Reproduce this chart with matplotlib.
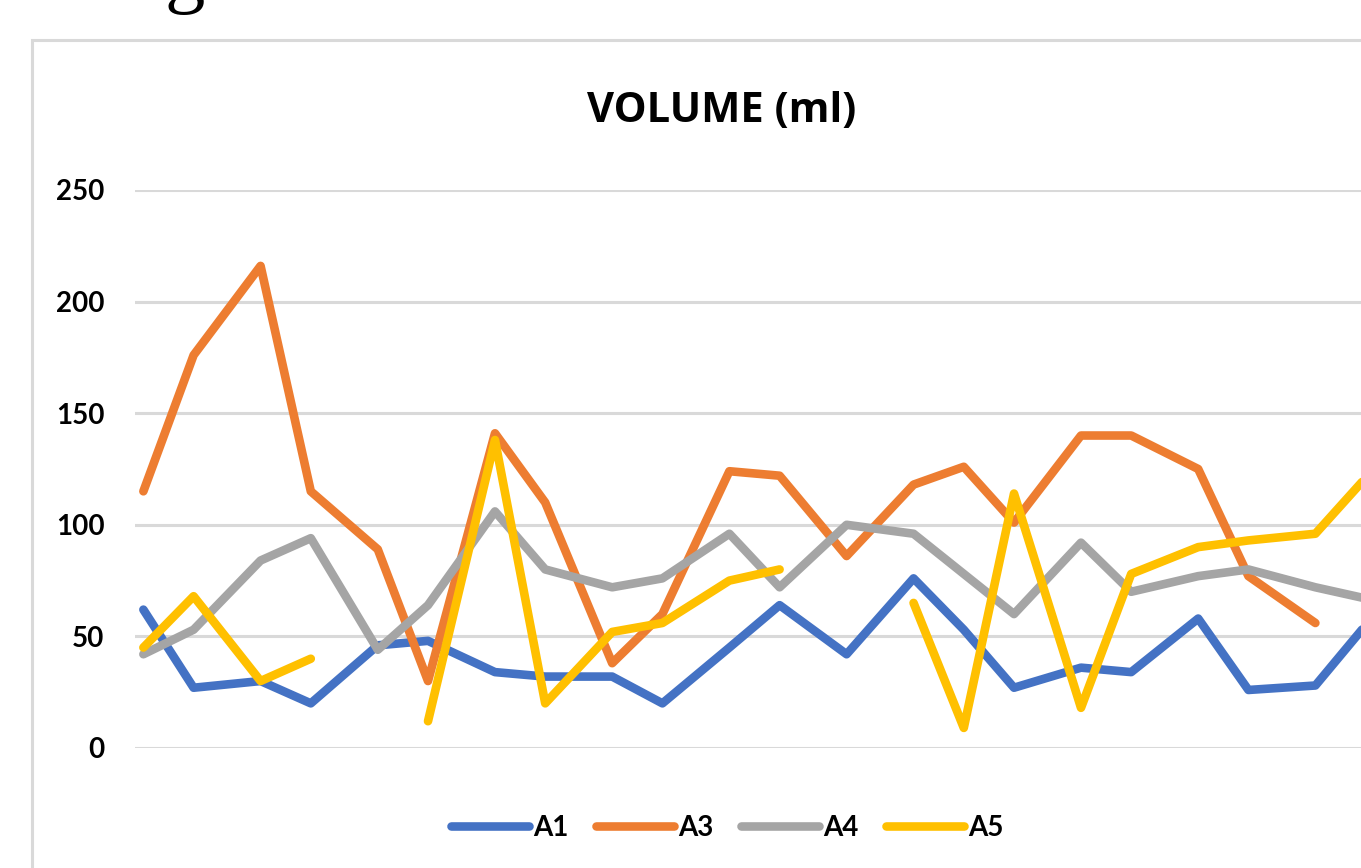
import numpy as np
import matplotlib
matplotlib.use("Agg")
import matplotlib.pyplot as plt
from matplotlib.patches import Rectangle

plt.rcParams["font.family"] = ["Lato", "DejaVu Sans"]

# sampling day (date axis, days since first sample)
days = [0, 3, 7, 10, 14, 17, 21, 24, 28, 31, 35, 38, 42, 46, 49, 52, 56, 59, 63, 66, 70, 73]

nan = np.nan
a1 = [62, 27, 30, 20, 46, 48, 34, 32, 32, 20, 45, 64, 42, 76, 53, 27, 36, 34, 58, 26, 28, 55]
a3 = [115, 176, 216, 115, 89, 30, 141, 110, 38, 60, 124, 122, 86, 118, 126, 101, 140, 140, 125, 77, 56, nan]
a4 = [42, 53, 84, 94, 44, 64, 106, 80, 72, 76, 96, 72, 100, 96, 78, 60, 92, 70, 77, 80, 72, 67]
a5 = [45, 68, 30, 40, nan, 12, 138, 20, 52, 56, 75, 80, nan, 65, 9, 114, 18, 78, 90, 93, 96, 121]

series_names = ["A1", "A3", "A4", "A5"]
series_values = [a1, a3, a4, a5]
colors = ["#4472C4", "#ED7D31", "#A5A5A5", "#FFC000"]
y_ticks = [0, 50, 100, 150, 200, 250]

W, H = 1361, 868
fig = plt.figure(figsize=(W / 100, H / 100), dpi=100)

# chart frame (cut off on right and bottom like the screenshot)
fig.patches.append(Rectangle((32 / W, -0.1), 1.2, (H - 40) / H + 0.1, transform=fig.transFigure,
                             fill=False, edgecolor="#d9d9d9", linewidth=2.2))
# stray glyph from text above the chart (cut off in the screenshot)
fig.text(164 / W, 1.0 + 2 / H, "g", family="Liberation Serif", fontsize=58, va="baseline", ha="left", color="black")

left, right = 135 / W, 1374 / W
bottom, top = (H - 748) / H, (H - 190) / H
ax = fig.add_axes([left, bottom, right - left, top - bottom])

for name, vals, c in zip(series_names, series_values, colors):
    ax.plot(days, vals, color=c, linewidth=6.2, label=name,
            solid_capstyle="round", solid_joinstyle="round")

ax.set_xlim(-0.5, 73.5)
ax.set_ylim(0, 250)
ax.set_yticks(y_ticks)
ax.set_yticklabels([str(t) for t in y_ticks], fontsize=20, fontweight="bold")
ax.set_xticks([])
ax.tick_params(axis="y", length=0, pad=22)
ax.grid(axis="y", color="#d9d9d9", linewidth=2.2)
ax.set_axisbelow(True)
for s in ax.spines.values():
    s.set_visible(False)

fig.text(722 / W, (H - 111) / H, "VOLUME (ml)", ha="center", va="center",
         fontsize=30, fontweight="bold", family=["Open Sans", "DejaVu Sans"])

fig.legend(loc="center", bbox_to_anchor=(727 / W, (H - 828) / H), ncol=4, frameon=False,
           prop={"size": 20, "weight": "bold"}, handlelength=2.8, handletextpad=0.15,
           columnspacing=1.0)

fig.savefig("out.png", dpi=100)
